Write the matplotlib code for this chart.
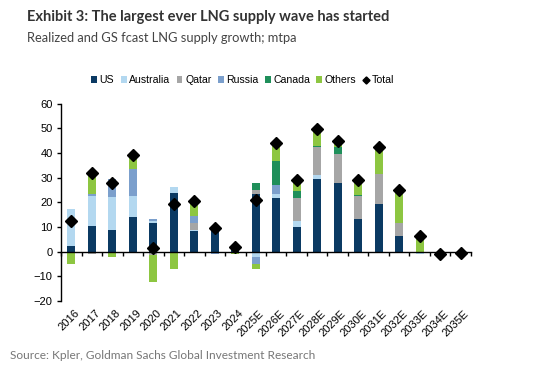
import matplotlib
matplotlib.use("Agg")
from matplotlib import pyplot as plt
import numpy as np

years = ['2016', '2017', '2018', '2019', '2020', '2021', '2022', '2023', '2024', '2025E',
         '2026E', '2027E', '2028E', '2029E', '2030E', '2031E', '2032E', '2033E', '2034E', '2035E']
us = [2.3, 10.5, 8.7, 13.8, 11.5, 23.8, 8.2, 9.3, 1.9, 23.2, 21.8, 10.0, 29.6, 27.8, 13.1, 19.2, 6.2, 0, 0, 0]
australia = [15.1, 12.1, 13.5, 8.8, 1.0, 2.2, 0.7, 0, 0, -2.4, 1.4, 2.4, 1.3, 0, 0, 0, 0, -1.1, 0, 0]
qatar = [0, -0.9, 0, 0, -1.5, 0, 2.7, 0, 0, 1.9, 0, 9.5, 11.3, 11.9, 9.3, 12.2, 5.2, 0, 0, 0]
russia = [0, 0.6, 7.4, 11.0, 0.8, 0, 2.7, -1.0, 0, -2.7, 3.8, 0, 0, 0, 0, 0, 0, 0, 0, 0]
canada = [0, 0, 0, 0, 0, 0, 0, 0, 0, 2.7, 9.8, 2.6, 0.6, 2.5, 0.7, 0, 0, 0, 0, 0]
others = [-5.1, 8.5, -2.4, 5.7, -10.8, -7.0, 5.8, 1.0, -1.0, -1.8, 6.8, 4.4, 6.7, 2.3, 5.4, 10.8, 12.8, 5.5, 0, 0]
total = [12.3, 32.0, 27.6, 39.2, 1.3, 19.1, 20.4, 9.6, 1.9, 20.8, 44.2, 29.0, 49.6, 44.9, 28.9, 42.2, 24.9, 6.2, -1.1, -0.6]

series = [('US', us, '#0b3a63'), ('Australia', australia, '#b3d8f0'), ('Qatar', qatar, '#a6a6a6'),
          ('Russia', russia, '#7b9fcc'), ('Canada', canada, '#1f8f5a'), ('Others', others, '#8dc641')]

plt.rcParams['font.family'] = ['Liberation Sans', 'DejaVu Sans']

fig = plt.figure(figsize=(5.6, 3.7), dpi=100)
ax = fig.add_axes([0.109, 0.187, 0.732, 0.533])

x = np.arange(len(years))
pos = np.zeros(len(years))
neg = np.zeros(len(years))
handles = []
for name, vals, col in series:
    v = np.array(vals, dtype=float)
    bottoms = np.where(v >= 0, pos, neg)
    h = ax.bar(x, v, 0.39, bottom=bottoms, color=col, label=name, linewidth=0)
    handles.append(h)
    pos = pos + np.clip(v, 0, None)
    neg = neg + np.clip(v, None, 0)
tot, = ax.plot(x, total, 'D', color='black', markersize=6, label='Total', linestyle='none')
handles.append(tot)

ax.set_xlim(-0.5, len(years) - 0.5)
ax.set_ylim(-20, 60)
ax.set_yticks(range(-20, 61, 10))
ax.tick_params(axis='y', labelsize=8, length=3, width=1, direction='out', pad=3)
for s in ['top', 'right']:
    ax.spines[s].set_visible(False)
ax.spines['left'].set_linewidth(1)
ax.spines['bottom'].set_position(('data', 0))
ax.spines['bottom'].set_linewidth(1)
ax.set_xticks(np.arange(len(years) + 1) - 0.5)
ax.set_xticklabels([])
ax.tick_params(axis='x', length=3, width=1, direction='out')
for i, lab in enumerate(years):
    ax.text(i + 0.15, -23, lab, rotation=45, ha='right', va='top', rotation_mode='anchor', fontsize=8)

ax.legend(handles=handles, labels=[h.get_label() for h in handles], loc='center',
          bbox_to_anchor=(0.433, 0.783), bbox_transform=fig.transFigure, ncol=7,
          frameon=False, fontsize=7.6, handlelength=0.55, handleheight=0.55, handletextpad=0.25,
          columnspacing=0.6, markerscale=0.6)

fig.text(0.048, 0.955, 'Exhibit 3: The largest ever LNG supply wave has started', fontsize=10.5,
         fontweight='bold', color='#333333', family='Lato', va='center')
fig.text(0.048, 0.898, 'Realized and GS fcast LNG supply growth; mtpa', fontsize=9.3,
         color='#444444', family='Lato', va='center')
fig.text(0.018, 0.038, 'Source: Kpler, Goldman Sachs Global Investment Research', fontsize=8.6,
         color='#777777', family='Lato', va='center')

fig.savefig('out.png', dpi=100)
